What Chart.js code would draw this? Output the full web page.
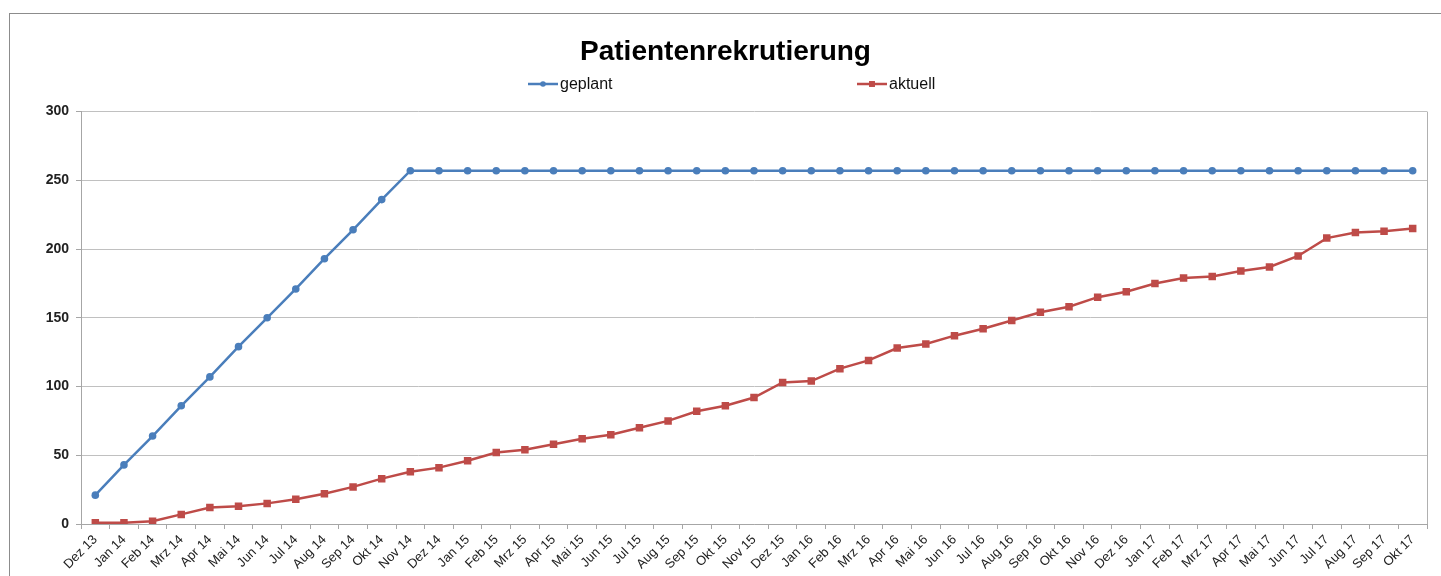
<!DOCTYPE html>
<html lang="de">
<head>
<meta charset="utf-8">
<title>Patientenrekrutierung</title>
<script src="https://cdn.jsdelivr.net/npm/chart.js@4.4.1/dist/chart.umd.min.js"></script>
<style>
  html, body { margin: 0; padding: 0; background: #fff; overflow: hidden; }
  #wrap { position: relative; width: 1441px; height: 576px; }
  #frame { position: absolute; left: 9px; top: 13px; width: 1500px; height: 600px; border: 1px solid #8c8c8c; }
  canvas { position: absolute; left: 0; top: 0; }
</style>
</head>
<body>
<div id="wrap">
  <div id="frame"></div>
  <canvas id="chart" width="1441" height="576"></canvas>
</div>
<script>
const months = [
  "Dez 13",
  "Jan 14", "Feb 14", "Mrz 14", "Apr 14", "Mai 14", "Jun 14", "Jul 14", "Aug 14", "Sep 14", "Okt 14", "Nov 14", "Dez 14",
  "Jan 15", "Feb 15", "Mrz 15", "Apr 15", "Mai 15", "Jun 15", "Jul 15", "Aug 15", "Sep 15", "Okt 15", "Nov 15", "Dez 15",
  "Jan 16", "Feb 16", "Mrz 16", "Apr 16", "Mai 16", "Jun 16", "Jul 16", "Aug 16", "Sep 16", "Okt 16", "Nov 16", "Dez 16",
  "Jan 17", "Feb 17", "Mrz 17", "Apr 17", "Mai 17", "Jun 17", "Jul 17", "Aug 17", "Sep 17", "Okt 17",
];

const geplant = [
  21, 43, 64, 86, 107, 129, 150, 171, 193, 214, 236, 257, 257,
  257, 257, 257, 257, 257, 257, 257, 257, 257, 257, 257, 257,
  257, 257, 257, 257, 257, 257, 257, 257, 257, 257, 257, 257,
  257, 257, 257, 257, 257, 257, 257, 257, 257, 257,
];

const aktuell = [
  1, 1, 2, 7, 12, 13, 15, 18, 22, 27, 33, 38, 41,
  46, 52, 54, 58, 62, 65, 70, 75, 82, 86, 92, 103,
  104, 113, 119, 128, 131, 137, 142, 148, 154, 158, 165, 169,
  175, 179, 180, 184, 187, 195, 208, 212, 213, 215,
];

const yMin = 0;
const yMax = 300;
const yStep = 50;

const BLUE = "#4a7ebb";
const RED = "#be4b48";
const FONT = "'Liberation Sans', Arial, sans-serif";

// legend drawn by hand: Excel style line with marker in the middle
const legendItems = [
  { label: "geplant", color: BLUE, style: "circle", radius: 2.8, x: 528 },
  { label: "aktuell", color: RED, style: "rect", radius: 4.2, x: 857 },
];

const excelLegend = {
  id: "excelLegend",
  afterDraw(chart) {
    const ctx = chart.ctx;
    const y = 84;
    ctx.save();
    for (const it of legendItems) {
      ctx.strokeStyle = it.color;
      ctx.lineWidth = 2.5;
      ctx.beginPath();
      ctx.moveTo(it.x, y);
      ctx.lineTo(it.x + 30, y);
      ctx.stroke();
      ctx.fillStyle = it.color;
      Chart.helpers.drawPoint(ctx, { pointStyle: it.style, radius: it.radius, rotation: 0, borderWidth: 0 }, it.x + 15, y);
      ctx.fillStyle = "#111";
      ctx.font = `16px ${FONT}`;
      ctx.textBaseline = "middle";
      ctx.textAlign = "left";
      ctx.fillText(it.label, it.x + 32, y + 1);
    }
    ctx.restore();
  },
};

// right edge of the plot area
const plotBorder = {
  id: "plotBorder",
  beforeDatasetsDraw(chart) {
    const { ctx, chartArea } = chart;
    ctx.save();
    ctx.strokeStyle = "#b0b0b0";
    ctx.lineWidth = 1;
    ctx.beginPath();
    ctx.moveTo(Math.round(chartArea.right) + 0.5, chartArea.top);
    ctx.lineTo(Math.round(chartArea.right) + 0.5, chartArea.bottom);
    ctx.stroke();
    ctx.restore();
  },
};

new Chart(document.getElementById("chart").getContext("2d"), {
  type: "line",
  data: {
    labels: months,
    datasets: [
      {
        label: "geplant",
        data: geplant,
        borderColor: BLUE,
        backgroundColor: BLUE,
        borderWidth: 2.5,
        pointStyle: "circle",
        pointRadius: 3.8,
        pointBorderWidth: 0,
        tension: 0,
      },
      {
        label: "aktuell",
        data: aktuell,
        borderColor: RED,
        backgroundColor: RED,
        borderWidth: 2.5,
        pointStyle: "rect",
        pointRadius: 5.3,
        pointBorderWidth: 0,
        tension: 0,
      },
    ],
  },
  options: {
    responsive: false,
    animation: false,
    layout: { padding: { left: 24, right: 14, top: 0, bottom: 0 } },
    plugins: {
      legend: { display: false },
      tooltip: { enabled: false },
      title: {
        display: true,
        text: "Patientenrekrutierung",
        color: "#000",
        font: { family: FONT, size: 28, weight: "bold" },
        padding: { top: 35, bottom: 43 },
      },
    },
    scales: {
      x: {
        offset: true,
        grid: { offset: true, drawOnChartArea: false, drawTicks: true, tickLength: 5, color: "#a6a6a6" },
        border: { display: true, color: "#a6a6a6" },
        ticks: {
          autoSkip: false,
          minRotation: 45,
          maxRotation: 45,
          padding: 3,
          color: "#222",
          font: { family: FONT, size: 13 },
        },
        afterFit(scale) { scale.height = 52; },
      },
      y: {
        min: yMin,
        max: yMax,
        grid: { color: "#c0c0c0", tickLength: 5, tickColor: "#a6a6a6" },
        border: { display: true, color: "#a6a6a6" },
        ticks: {
          stepSize: yStep,
          padding: 7,
          color: "#222",
          font: { family: FONT, size: 14, weight: "bold" },
        },
        afterFit(scale) { scale.width = 57; },
      },
    },
  },
  plugins: [excelLegend, plotBorder],
});
</script>
</body>
</html>
